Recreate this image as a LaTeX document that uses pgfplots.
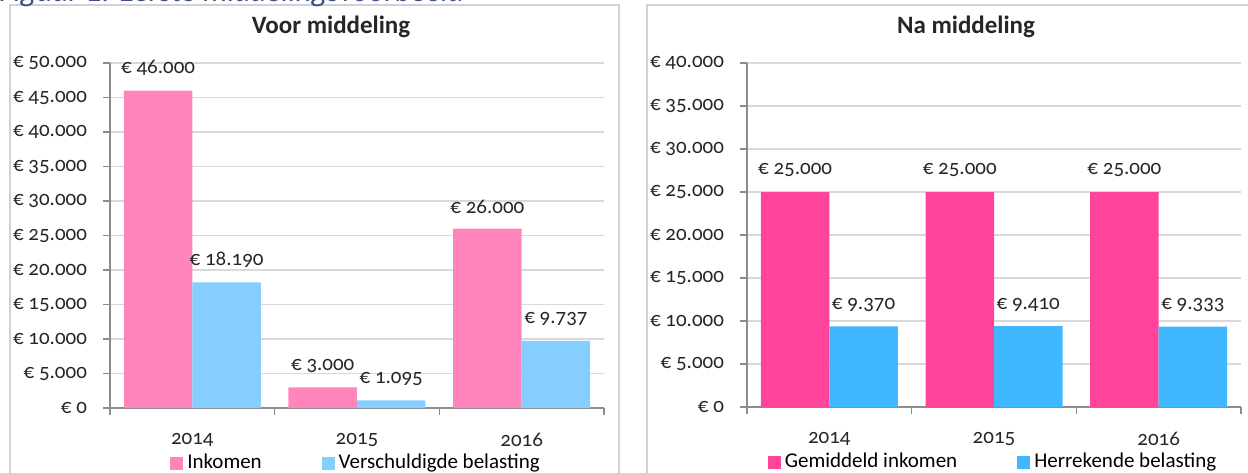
\documentclass[border=0pt]{standalone}
\usepackage{pgfplots}
\pgfplotsset{compat=1.18}
\usepackage{fontspec}
\setmainfont{Carlito}[Numbers=OldStyle]
\definecolor{lpink}{RGB}{255,133,188}
\definecolor{lblue}{RGB}{133,206,255}
\definecolor{rpink}{RGB}{255,68,153}
\definecolor{rblue}{RGB}{64,184,255}
\definecolor{gridgray}{RGB}{217,217,217}
\definecolor{axisgray}{RGB}{140,140,140}
\definecolor{framegray}{RGB}{210,210,210}
\definecolor{capblue}{RGB}{60,80,130}
\pgfplotsset{
  mybars/.style={
    scale only axis, width=247pt, height=172.5pt,
    xmin=-0.5, xmax=2.5, ymin=0,
    ybar=0pt, bar width=34.25pt,
    axis x line*=bottom, axis y line*=left,
    axis line style={draw=axisgray, line width=0.6pt},
    tick style={draw=axisgray, line width=0.6pt},
    tick align=outside, major tick length=3.5pt,
    ymajorgrids=true, grid style={draw=gridgray, line width=0.6pt},
    scaled y ticks=false,
    xtick={-0.5,0.5,1.5,2.5}, xticklabels={},
    extra x ticks={0,1,2}, extra x tick labels={2014,2015,2016},
    extra x tick style={major tick length=0pt, grid=none},
    ticklabel style={font=\fontsize{10.5}{12}\selectfont, text=black!85},
    xticklabel style={yshift=-9pt},
    yticklabel style={xshift=-4.5pt},
    /pgf/number format/assume math mode=true,
    nodes near coords={€ \pgfmathprintnumber[1000 sep={.}, fixed, precision=0]{\pgfplotspointmeta}},
    every node near coord/.append style={font=\fontsize{10.5}{12}\selectfont, text=black!85, yshift=4pt},
    legend style={at={(0.5,-0.16)}, anchor=center, draw=none, fill=none,
      legend columns=2, font=\fontsize{10.5}{12}\selectfont,
      /tikz/every even column/.append style={column sep=28pt}},
    legend image code/.code={\fill[##1] (0pt,-3.25pt) rectangle (6.5pt,3.25pt);},
  }
}
\begin{document}
\begin{tikzpicture}
\useasboundingbox (0pt,0pt) rectangle (624pt,236pt);
\clip (0pt,0pt) rectangle (624pt,236pt);
\draw[framegray, line width=0.6pt] (5pt,-5pt) rectangle (309.5pt,233.5pt);
\draw[framegray, line width=0.6pt] (323.5pt,-5pt) rectangle (640pt,233.5pt);
\node[anchor=base west, font=\fontsize{15.5}{17}\selectfont\itshape, text=capblue, inner sep=0] at (-0.5pt,235pt) {Figuur 1: Eerste middelingsvoorbeeld};
\node[font=\bfseries\fontsize{12.5}{14}\selectfont, text=black!85] at (165.5pt,222.5pt) {Voor middeling};
\node[font=\bfseries\fontsize{12.5}{14}\selectfont, text=black!85] at (483pt,222.5pt) {Na middeling};

\begin{axis}[mybars, at={(55pt,32pt)}, anchor=south west, ymax=50000,
  ytick={0,5000,...,50000},
  yticklabels={€ 0,€ 5.000,€ 10.000,€ 15.000,€ 20.000,€ 25.000,€ 30.000,€ 35.000,€ 40.000,€ 45.000,€ 50.000}]
\addplot[fill=lpink, draw=none] coordinates {(0,46000) (1,3000) (2,26000)};
\addplot[fill=lblue, draw=none] coordinates {(0,18190) (1,1095) (2,9737)};
\legend{Inkomen, Verschuldigde belasting}
\end{axis}

\begin{axis}[mybars, at={(373.5pt,32.5pt)}, anchor=south west, ymax=40000, height=172pt,
  ytick={0,5000,...,40000},
  yticklabels={€ 0,€ 5.000,€ 10.000,€ 15.000,€ 20.000,€ 25.000,€ 30.000,€ 35.000,€ 40.000}]
\addplot[fill=rpink, draw=none] coordinates {(0,25000) (1,25000) (2,25000)};
\addplot[fill=rblue, draw=none] coordinates {(0,9370) (1,9410) (2,9333)};
\legend{Gemiddeld inkomen, Herrekende belasting}
\end{axis}
\end{tikzpicture}
\end{document}
